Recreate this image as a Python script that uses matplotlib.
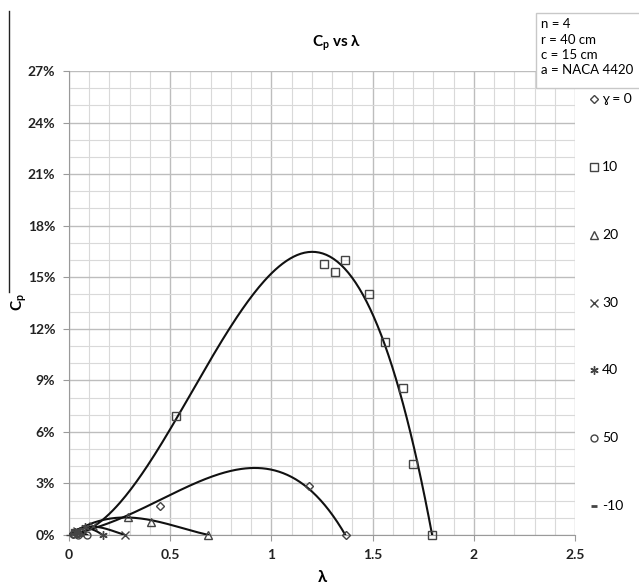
import matplotlib.pyplot as plt
import numpy as np
from matplotlib.lines import Line2D
from matplotlib.patches import Rectangle
from matplotlib.ticker import FuncFormatter, MultipleLocator

plt.rcParams['font.family'] = ['Lato', 'DejaVu Sans']
plt.rcParams['mathtext.fontset'] = 'custom'
plt.rcParams['mathtext.rm'] = 'Lato'
plt.rcParams['mathtext.bf'] = 'Lato:bold'
plt.rcParams['mathtext.it'] = 'Lato:italic'

W, H = 639, 585

# measured points (lambda, Cp in %)
g0_x = [0.02, 0.06, 0.45, 1.187, 1.367]
g0_y = [0.05, 0.15, 1.69, 2.85, 0.0]
g10_x = [0.03, 0.53, 1.261, 1.313, 1.365, 1.484, 1.563, 1.649, 1.701, 1.795]
g10_y = [0.1, 6.9, 15.78, 15.32, 15.98, 14.0, 11.24, 8.53, 4.14, 0.0]
g20_x = [0.05, 0.293, 0.404, 0.687]
g20_y = [0.2, 1.03, 0.78, 0.0]
g30_x = [0.04, 0.12, 0.277]
g30_y = [0.25, 0.5, 0.0]
g40_x = [0.03, 0.08, 0.166]
g40_y = [0.2, 0.45, 0.0]
g50_x = [0.02, 0.046, 0.087]
g50_y = [0.05, 0.0, 0.0]
gm10_x = [0.0, 0.015, 0.03]
gm10_y = [0.0, 0.05, 0.02]

# trendlines
t0_x = [0, 0.1, 0.285, 0.483, 0.68, 0.9, 1.09, 1.224, 1.306, 1.367]
t0_y = [0, 0.4, 1.1, 2.18, 3.3, 3.95, 3.42, 2.23, 1.07, 0]
t10_x = [0, 0.12, 0.285, 0.45, 0.589, 0.647, 0.812, 1.0, 1.204, 1.388, 1.504, 1.602, 1.681, 1.795]
t10_y = [0, 0.58, 2.04, 5.54, 7.87, 9.14, 12.34, 15.16, 16.46, 15.26, 12.73, 9.62, 6.12, 0]
t20_x = [0, 0.06, 0.12, 0.2, 0.3, 0.4, 0.5, 0.6, 0.687]
t20_y = [0, 0.4, 0.7, 0.95, 1.05, 0.85, 0.58, 0.3, 0]
t30_x = [0, 0.05, 0.1, 0.15, 0.2, 0.277]
t30_y = [0, 0.35, 0.5, 0.45, 0.3, 0]
t40_x = [0, 0.04, 0.08, 0.12, 0.166]
t40_y = [0, 0.3, 0.4, 0.3, 0]
t50_x = [0, 0.03, 0.06, 0.09]
t50_y = [0, 0.15, 0.15, 0]
tm10_x = [0, 0.02, 0.04]
tm10_y = [0, 0.08, 0]

labels = ['ɣ = 0', '10', '20', '30', '40', '50', '-10']
markers = ['D', 's', '^', 'x', (6, 2, 0), 'o', '_']
sizes = [4, 5.5, 5.5, 5.5, 6, 5, 5]

points = [(g0_x, g0_y), (g10_x, g10_y), (g20_x, g20_y), (g30_x, g30_y),
          (g40_x, g40_y), (g50_x, g50_y), (gm10_x, gm10_y)]
trends = [(t0_x, t0_y, 4), (t10_x, t10_y, 4), (t20_x, t20_y, 4), (t30_x, t30_y, 3),
          (t40_x, t40_y, 3), (t50_x, t50_y, 2), (tm10_x, tm10_y, 2)]

fig = plt.figure(figsize=(W / 100, H / 100), dpi=100)
ax = fig.add_axes([69 / W, 1 - 535 / H, 506 / W, 464 / H])

for (px, py), (tx, ty, deg), m, ms in zip(points, trends, markers, sizes):
    coef = np.polyfit(tx, ty, deg)
    xs = np.linspace(tx[0], tx[-1], 200)
    ax.plot(xs, np.polyval(coef, xs), color='#111111', lw=1.5, zorder=3)
    ax.plot(px, py, ls='none', marker=m, ms=ms, mfc='none',
            mec='#444444', mew=1.0, zorder=4, clip_on=False)

ax.set_xlim(0, 2.5)
ax.set_ylim(0, 27)
ax.xaxis.set_major_locator(MultipleLocator(0.5))
ax.xaxis.set_minor_locator(MultipleLocator(0.1))
ax.yaxis.set_major_locator(MultipleLocator(3))
ax.yaxis.set_minor_locator(MultipleLocator(1))
ax.xaxis.set_major_formatter(FuncFormatter(lambda v, p: f'{v:g}'))
ax.yaxis.set_major_formatter(FuncFormatter(lambda v, p: f'{int(round(v))}%'))
ax.grid(which='major', color='#bdbdbd', lw=1.0, zorder=0)
ax.grid(which='minor', color='#d9d9d9', lw=0.8, zorder=0)
ax.set_axisbelow(True)
for s in ['top', 'right']:
    ax.spines[s].set_visible(False)
for s in ['left', 'bottom']:
    ax.spines[s].set_color('#9a9a9a')
ax.tick_params(which='major', length=4, color='#9a9a9a', labelsize=10, pad=6)
ax.tick_params(which='minor', length=0)
for t in ax.get_xticklabels() + ax.get_yticklabels():
    t.set_fontweight('bold')
    t.set_color('#222222')

fig.text(337 / W, 1 - 43 / H, r'C$_\mathbf{p}$ vs λ', ha='center', va='center',
         fontsize=11, fontweight='bold')
fig.text(322 / W, 1 - 577 / H, 'λ', ha='center', va='center', fontsize=12,
         fontweight='bold')
fig.text(19 / W, 1 - 302 / H, r'C$_\mathbf{p}$', ha='center', va='center',
         rotation=90, fontsize=11, fontweight='bold')
fig.add_artist(Line2D([9 / W, 9 / W], [1 - 11 / H, 1 - 292 / H],
                      color='#222222', lw=1.0))

fig.add_artist(Rectangle((536 / W, 1 - 88 / H), 110 / W, 75 / H,
                         transform=fig.transFigure, fc='white', ec='#c8c8c8', lw=1,
                         zorder=5))
fig.text(541 / W, 1 - 18 / H, 'n = 4\nr = 40 cm\nc = 15 cm\na = NACA 4420',
         ha='left', va='top', fontsize=9.5, linespacing=1.35, zorder=6)

# legend column on the right
rows = np.linspace(99, 506, len(labels))
for lab, m, ms, yy in zip(labels, markers, sizes, rows):
    fig.add_artist(Line2D([594 / W], [1 - yy / H], ls='none', marker=m, ms=ms,
                          mfc='none', mec='#444444', mew=1.0 if m != '_' else 2.0))
    fig.text(602 / W, 1 - yy / H, lab, ha='left', va='center', fontsize=10)

fig.savefig('out.png', dpi=100)
